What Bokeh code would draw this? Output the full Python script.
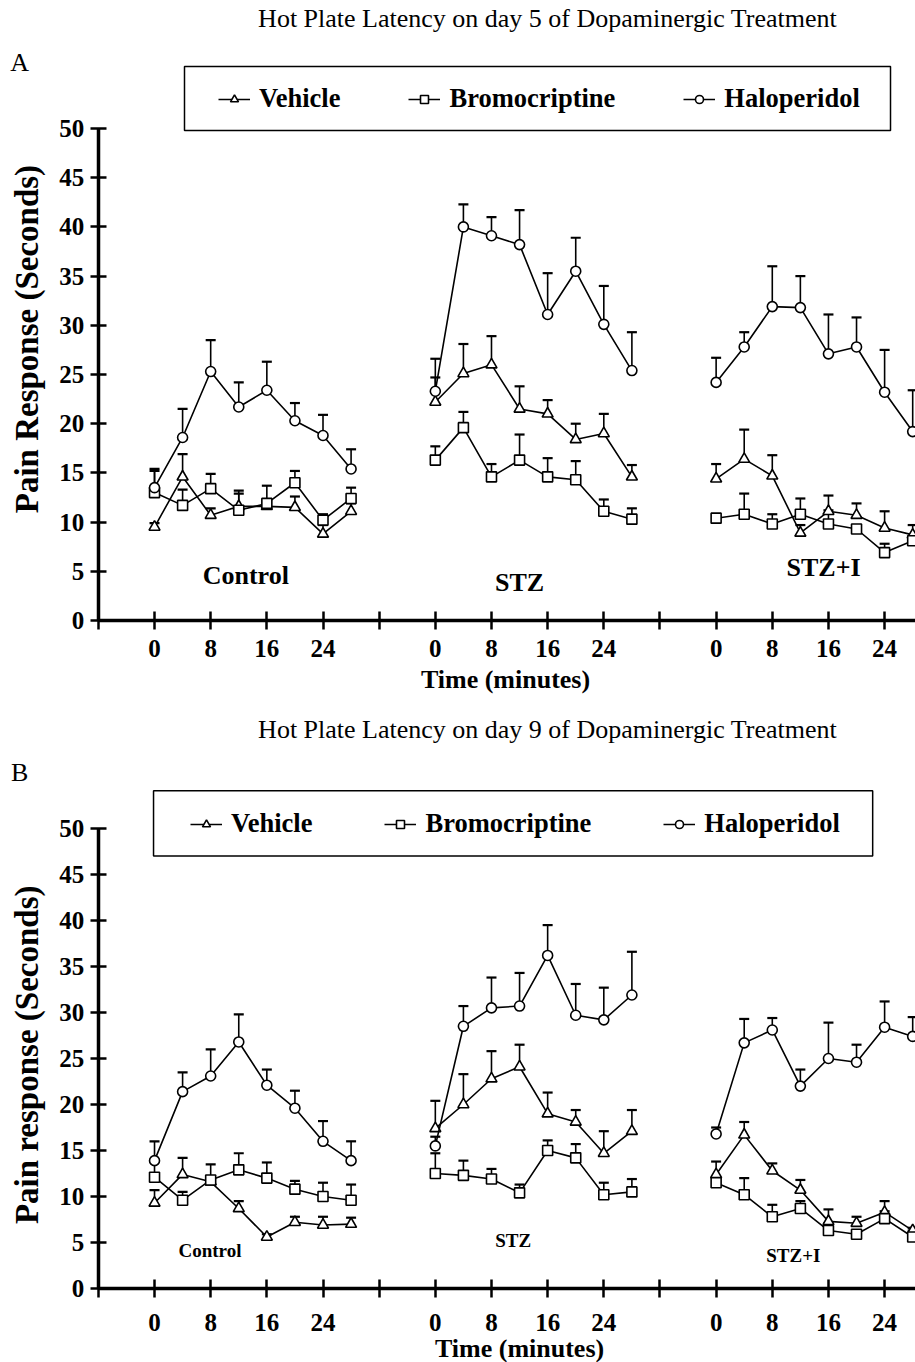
import math
from bokeh.plotting import figure
from bokeh.models import Range1d, FixedTicker, Legend, LegendItem, Label, BoxAnnotation
from bokeh.layouts import column
from bokeh.embed import file_html
from bokeh.resources import INLINE

SERIF = "Liberation Serif"

# ---------------- data ----------------
times = [0, 4, 8, 12, 16, 20, 24, 28]
groups = ["Control", "STZ", "STZ+I"]
series_names = ["Vehicle", "Bromocriptine", "Haloperidol"]
series_markers = ["triangle", "square", "circle"]
x_tick_labels = ["0", "8", "16", "24"]
y_ticks = [0, 5, 10, 15, 20, 25, 30, 35, 40, 45, 50]

# Day 5: mean pain response (s), one row per group [Control, STZ, STZ+I]
day5_vehicle = [[9.5, 14.6, 10.7, 11.6, 11.6, 11.5, 8.8, 11.1],
                [22.2, 25.1, 26.0, 21.5, 21.0, 18.4, 19.0, 14.6],
                [14.4, 16.4, 14.7, 8.9, 11.1, 10.7, 9.4, 8.7]]
day5_vehicle_sem = [[0.4, 2.3, 0.7, 1.6, 0.6, 1.1, 0.9, 0.8],
                    [2.5, 3.0, 2.9, 2.3, 1.4, 1.6, 2.0, 1.2],
                    [1.5, 3.0, 2.1, 0.8, 1.6, 1.2, 1.7, 1.0]]
day5_bromocriptine = [[13.0, 11.7, 13.4, 11.2, 11.9, 14.0, 10.2, 12.4],
                      [16.3, 19.6, 14.6, 16.3, 14.6, 14.3, 11.1, 10.3],
                      [10.4, 10.8, 9.8, 10.8, 9.8, 9.3, 6.9, 8.1]]
day5_bromocriptine_sem = [[2.2, 1.6, 1.5, 1.7, 1.8, 1.2, 0.6, 1.1],
                          [1.4, 1.6, 1.3, 2.6, 1.9, 1.9, 1.2, 1.1],
                          [0.2, 2.1, 1.0, 1.6, 1.4, 0.4, 0.9, 0.5]]
day5_haloperidol = [[13.5, 18.6, 25.3, 21.7, 23.4, 20.3, 18.8, 15.4],
                    [23.3, 40.0, 39.1, 38.2, 31.1, 35.5, 30.1, 25.4],
                    [24.2, 27.8, 31.9, 31.8, 27.1, 27.8, 23.2, 19.2]]
day5_haloperidol_sem = [[1.9, 2.9, 3.2, 2.5, 2.9, 1.8, 2.1, 2.0],
                        [3.3, 2.3, 1.9, 3.5, 4.2, 3.4, 3.9, 3.9],
                        [2.5, 1.5, 4.1, 3.2, 4.0, 3.0, 4.3, 4.2]]

# Day 9
day9_vehicle = [[9.3, 12.4, 11.6, 8.7, 5.6, 7.2, 6.9, 7.0],
                [17.4, 20.0, 22.8, 24.1, 19.0, 18.1, 14.7, 17.1],
                [12.4, 16.7, 12.8, 10.7, 7.3, 7.1, 8.3, 6.3]]
day9_vehicle_sem = [[1.4, 1.8, 0.5, 0.8, 0.3, 0.6, 0.9, 0.7],
                    [3.0, 3.3, 3.0, 2.4, 2.3, 1.3, 2.4, 2.3],
                    [1.4, 1.4, 0.8, 1.1, 1.3, 0.7, 1.2, 0.3]]
day9_bromocriptine = [[12.1, 9.6, 11.8, 12.9, 12.0, 10.8, 10.0, 9.6],
                      [12.5, 12.3, 11.9, 10.4, 15.0, 14.2, 10.2, 10.5],
                      [11.5, 10.2, 7.8, 8.7, 6.3, 5.9, 7.6, 5.6]]
day9_bromocriptine_sem = [[1.7, 0.9, 1.7, 1.8, 1.7, 0.9, 1.5, 1.7],
                          [2.2, 1.6, 1.1, 0.9, 1.1, 1.5, 1.3, 1.4],
                          [0.5, 1.8, 1.3, 0.8, 0.8, 0.3, 0.8, 0.7]]
day9_haloperidol = [[13.9, 21.4, 23.1, 26.8, 22.1, 19.6, 16.0, 13.9],
                    [15.5, 28.5, 30.5, 30.7, 36.2, 29.7, 29.2, 31.9],
                    [16.8, 26.7, 28.1, 22.0, 25.0, 24.6, 28.4, 27.4]]
day9_haloperidol_sem = [[2.1, 2.1, 2.9, 3.0, 1.7, 1.9, 2.2, 2.1],
                        [1.0, 2.2, 3.3, 3.6, 3.3, 3.4, 3.5, 4.7],
                        [0.7, 2.6, 1.3, 1.8, 3.9, 1.9, 2.8, 2.1]]

# ---------------- layout ----------------
GROUP_GAP = 40          # x offset between the three groups (minutes units)
X_LEFT, X_RIGHT = -21.94, 108.4   # visible x extent of each figure
AXIS_X = -8                        # where the y axis sits

panels = [
    dict(title="Hot Plate Latency on day 5 of Dopaminergic Treatment", letter="A",
         ylabel="Pain Response (Seconds)",
         means=[day5_vehicle, day5_bromocriptine, day5_haloperidol],
         sems=[day5_vehicle_sem, day5_bromocriptine_sem, day5_haloperidol_sem],
         height=700, y_range=(-8.13, 63.01),
         title_pos=(56.0, 61.2), letter_pos=(-19.2, 56.7), ylabel_pos=(-18.2, 28.6),
         xlabel_pos=(50.0, -6.0), tick_standoff=10,
         box=(4.27, 104.84, 56.3, 49.8), legend_loc=(218, 586), legend_spacing=68,
         group_label_pos=[(13.0, 4.6), (52.0, 3.9), (95.3, 5.4)], group_label_size="26px"),
    dict(title="Hot Plate Latency on day 9 of Dopaminergic Treatment", letter="B",
         ylabel="Pain response (Seconds)",
         means=[day9_vehicle, day9_bromocriptine, day9_haloperidol],
         sems=[day9_vehicle_sem, day9_bromocriptine_sem, day9_haloperidol_sem],
         height=662, y_range=(-8.04, 63.91),
         title_pos=(56.0, 60.76), letter_pos=(-19.2, 56.09), ylabel_pos=(-18.2, 25.4),
         xlabel_pos=(52.0, -6.5), tick_standoff=16,
         box=(-0.14, 102.3, 54.1, 47.0), legend_loc=(190, 523), legend_spacing=72,
         group_label_pos=[(7.9, 4.1), (51.1, 5.2), (91.0, 3.6)], group_label_size="19px"),
]


def make_panel(cfg):
    p = figure(width=915, height=cfg["height"], output_backend="svg", toolbar_location=None,
               x_range=Range1d(X_LEFT, X_RIGHT), y_range=Range1d(*cfg["y_range"]),
               min_border=0, min_border_left=0, min_border_right=0,
               min_border_top=0, min_border_bottom=0, title_location=None,
               background_fill_color="white", border_fill_color="white")
    p.outline_line_color = None
    p.grid.visible = False

    # axes (kept in their side panels, drawn at a fixed data location)
    xa, ya = p.xaxis[0], p.yaxis[0]
    for ax in (xa, ya):
        ax.axis_line_width = 3.5
        ax.axis_line_color = "black"
        ax.major_tick_line_width = 2.5
        ax.major_tick_line_color = "black"
        ax.minor_tick_line_color = None
        ax.major_label_text_font = SERIF
        ax.major_label_text_font_style = "bold"
        ax.major_label_text_font_size = "25px"
        ax.major_label_text_color = "black"
    ya.fixed_location = AXIS_X
    ya.bounds = (0, 50)
    ya.ticker = FixedTicker(ticks=y_ticks, minor_ticks=[])
    ya.major_tick_in = 8
    ya.major_tick_out = 8
    ya.major_label_standoff = 6

    xa.fixed_location = 0
    xa.bounds = (AXIS_X, X_RIGHT)
    major = [AXIS_X + 8 * i for i in range(15)]
    xa.ticker = FixedTicker(ticks=major, minor_ticks=[])
    overrides = {t: "" for t in major}
    for g in range(len(groups)):
        for lab in x_tick_labels:
            overrides[g * GROUP_GAP + int(lab)] = lab
    xa.major_label_overrides = overrides
    xa.major_tick_in = 9
    xa.major_tick_out = 9
    xa.major_label_standoff = cfg["tick_standoff"]

    # error bars (upper SEM only), then lines, then markers
    for s_idx in range(len(series_names)):
        for g in range(len(groups)):
            xs = [g * GROUP_GAP + t for t in times]
            m = cfg["means"][s_idx][g]
            tops = [a + b for a, b in zip(m, cfg["sems"][s_idx][g])]
            p.segment(xs, m, xs, tops, line_color="black", line_width=1.6)
            p.scatter(xs, tops, marker="dash", size=10, line_color="black", line_width=2.2)
    legend_renderers = []
    for s_idx, name in enumerate(series_names):
        rends = []
        for g in range(len(groups)):
            xs = [g * GROUP_GAP + t for t in times]
            lr = p.line(xs, cfg["means"][s_idx][g], line_color="black", line_width=1.6)
            if g == 0:
                rends.append(lr)
        for g in range(len(groups)):
            xs = [g * GROUP_GAP + t for t in times]
            size = {"triangle": 11, "square": 10, "circle": 10}[series_markers[s_idx]]
            sr = p.scatter(xs, cfg["means"][s_idx][g], marker=series_markers[s_idx], size=size,
                           fill_color="white", line_color="black", line_width=1.6)
            if g == 0:
                rends.append(sr)
        legend_renderers.append(rends)

    # legend frame + legend
    left, right, top, bottom = cfg["box"]
    p.add_layout(BoxAnnotation(left=left, right=right, top=top, bottom=bottom,
                               fill_color="white", fill_alpha=1.0,
                               line_color="black", line_alpha=1.0, line_width=1.5))
    legend = Legend(items=[LegendItem(label=n, renderers=r)
                           for n, r in zip(series_names, legend_renderers)],
                    orientation="horizontal", location=cfg["legend_loc"],
                    glyph_width=32, glyph_height=20, label_standoff=9,
                    spacing=cfg["legend_spacing"], padding=0, margin=0,
                    border_line_color=None, background_fill_alpha=0,
                    label_text_font=SERIF, label_text_font_style="bold",
                    label_text_font_size="26.5px", label_text_color="black")
    p.add_layout(legend, "center")

    def add_label(pos, text, size, style, angle=0.0):
        p.add_layout(Label(x=pos[0], y=pos[1], text=text, text_font=SERIF,
                           text_font_size=size, text_font_style=style,
                           text_align="center", text_baseline="middle",
                           angle=angle, text_color="black"))

    add_label(cfg["title_pos"], cfg["title"], "26px", "normal")
    add_label(cfg["letter_pos"], cfg["letter"], "26px", "normal")
    add_label(cfg["ylabel_pos"], cfg["ylabel"], "33px", "bold", angle=math.pi / 2)
    add_label(cfg["xlabel_pos"], "Time (minutes)", "26px", "bold")
    for g, pos in enumerate(cfg["group_label_pos"]):
        add_label(pos, groups[g], cfg["group_label_size"], "bold")
    return p


layout = column(*[make_panel(c) for c in panels], spacing=0)
open("out.html", "w").write(file_html(layout, INLINE))
